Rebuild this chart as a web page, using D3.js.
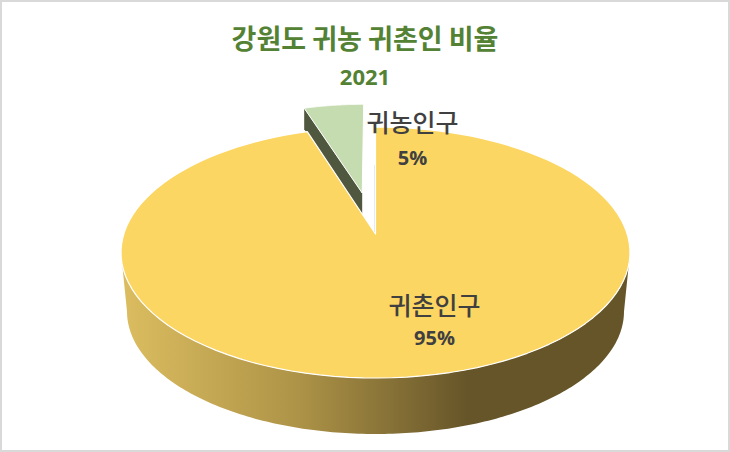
<!DOCTYPE html>
<html>
<head>
<meta charset="utf-8">
<script src="https://cdn.jsdelivr.net/npm/d3@7"></script>
<style>
  html, body { margin: 0; padding: 0; background: #fff; overflow: hidden; }
  text { font-family: "Noto Sans CJK KR", sans-serif; }
</style>
</head>
<body>
<script>
var categories = ["귀촌인구", "귀농인구"];
var values = [95, 5];
var valueLabels = ["95%", "5%"];
var titleText = "강원도 귀농 귀촌인 비율";
var subtitleText = "2021";

var w = 730;
var h = 452;

var svg = d3.select("body").append("svg")
  .attr("width", w)
  .attr("height", h);

// frame, heavier on the right and bottom
svg.append("rect")
  .attr("width", w).attr("height", h)
  .attr("fill", "#d9d9d9");
svg.append("rect")
  .attr("x", 2).attr("y", 2)
  .attr("width", w - 4).attr("height", h - 4)
  .attr("fill", "#fff");

var defs = svg.append("defs");
var grad = defs.append("linearGradient")
  .attr("id", "wall")
  .attr("gradientUnits", "userSpaceOnUse")
  .attr("x1", 121).attr("x2", 630).attr("y1", 0).attr("y2", 0);
grad.append("stop").attr("offset", "0%").attr("stop-color", "#dcbd60");
grad.append("stop").attr("offset", "35%").attr("stop-color", "#ad9347");
grad.append("stop").attr("offset", "68%").attr("stop-color", "#665529");
grad.append("stop").attr("offset", "100%").attr("stop-color", "#665529");

// perspective of the pie top: disk coordinates to screen
var apexX = 375.5, apexY = 234;
var persp = 0.1474, scaleX = 251.7, scaleY = 122.8;

function project(dx, dy) {
  var k = 1 + persp * dy;
  return [apexX + scaleX * dx / k, apexY - scaleY * dy / k];
}

var pie = d3.pie().sort(null).startAngle(0).endAngle(2 * Math.PI);
var arcs = pie(values);

function arcPoints(a0, a1, r, ox, oy) {
  var pts = [];
  d3.range(0, 121).forEach(function(i) {
    var a = a0 + (a1 - a0) * i / 120;
    pts.push(project(ox + r * Math.sin(a), oy + r * Math.cos(a)));
  });
  return pts;
}

var line = d3.line();

// side wall
var cxTop = 375.5, cyTop = 252.5, rxTop = 254.5, ryTop = 125.5;
var cxBot = 375.5, cyBot = 311.4, rxBot = 248.5, ryBot = 122.6;
var wall = [];
d3.range(0, 181).forEach(function(i) {
  var a = Math.PI * i / 180;
  wall.push([cxTop + rxTop * Math.cos(a), cyTop + ryTop * Math.sin(a)]);
});
d3.range(180, -1, -1).forEach(function(i) {
  var a = Math.PI * i / 180;
  wall.push([cxBot + rxBot * Math.cos(a), cyBot + ryBot * Math.sin(a)]);
});
svg.append("path")
  .attr("d", line(wall) + "Z")
  .attr("fill", "url(#wall)");

// exploded slice
var small = arcs[1];
var midA = (small.startAngle + small.endAngle) / 2;
var explode = 0.355, smallR = 0.9;
var ox = explode * Math.sin(midA), oy = explode * Math.cos(midA);
var smallArc = arcPoints(small.startAngle, small.endAngle, smallR, ox, oy);
var smallApex = project(ox, oy);
var cutDepth = 21;

svg.append("path")
  .attr("d", line([
    smallApex, smallArc[0],
    [smallArc[0][0], smallArc[0][1] + cutDepth],
    [smallApex[0], smallApex[1] + cutDepth]
  ]) + "Z")
  .attr("fill", "#50573f");

svg.append("path")
  .attr("d", line([smallApex].concat(smallArc)) + "Z")
  .attr("fill", "#c5dcb0")
  .attr("stroke", "#fff")
  .attr("stroke-width", 1);

// main slice
var big = arcs[0];
var bigArc = arcPoints(big.startAngle, big.endAngle, 1, 0, 0);
svg.append("path")
  .attr("d", line([project(0, 0)].concat(bigArc)) + "Z")
  .attr("fill", "#fcd663")
  .attr("stroke", "#fff")
  .attr("stroke-width", 1.2)
  .attr("stroke-linejoin", "round");

// thin cut edge next to the start of the main slice
svg.append("line")
  .attr("x1", apexX - 1).attr("x2", apexX - 1)
  .attr("y1", 165).attr("y2", apexY - 2)
  .attr("stroke", "#e4e4e4")
  .attr("stroke-width", 0.8);

// titles
svg.append("text")
  .attr("x", 365).attr("y", 49)
  .attr("text-anchor", "middle")
  .attr("font-size", 27).attr("font-weight", 700)
  .attr("fill", "#548235")
  .text(titleText);

svg.append("text")
  .attr("x", 365).attr("y", 85)
  .attr("text-anchor", "middle")
  .attr("font-size", 22).attr("font-weight", 700)
  .style("font-family", "'Open Sans', sans-serif")
  .attr("fill", "#548235")
  .text(subtitleText);

// data labels
var labelPos = [[434.5, 315, 345], [412.5, 132, 165]];
categories.forEach(function(c, i) {
  svg.append("text")
    .attr("x", labelPos[i][0]).attr("y", labelPos[i][1])
    .attr("text-anchor", "middle")
    .attr("font-size", 25).attr("font-weight", 500)
    .attr("fill", "#404040")
    .text(c);
  svg.append("text")
    .attr("x", labelPos[i][0]).attr("y", labelPos[i][2])
    .attr("text-anchor", "middle")
    .attr("font-size", 20).attr("font-weight", 700)
    .style("font-family", "'Open Sans', sans-serif")
    .attr("fill", "#404040")
    .text(valueLabels[i]);
});
</script>
</body>
</html>
